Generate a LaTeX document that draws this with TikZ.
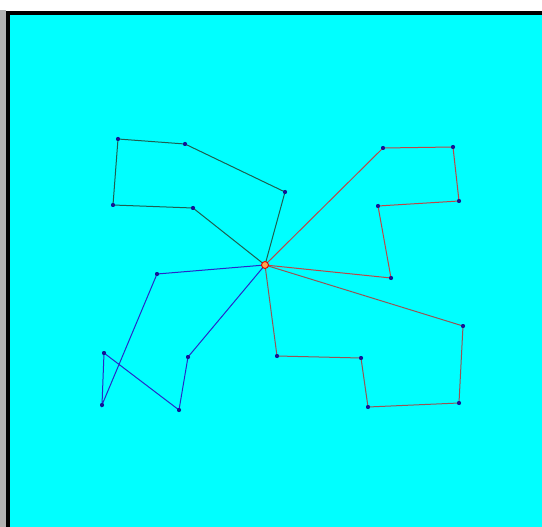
\documentclass[tikz,border=0pt]{standalone}
\definecolor{bgcyan}{RGB}{0,255,255}
\definecolor{tlcol}{RGB}{30,95,80}
\definecolor{trcol}{RGB}{190,70,70}
\definecolor{blcol}{RGB}{40,40,200}
\definecolor{brcol}{RGB}{150,85,85}
\definecolor{dotcol}{RGB}{20,20,150}
\begin{document}
\begin{tikzpicture}[x=1pt,y=-1pt,
  vtx/.style={circle,fill=dotcol,inner sep=0pt,minimum size=4pt},
  ctr/.style={circle,draw=red!85!black,fill=orange!70,line width=0.9pt,inner sep=0pt,minimum size=7pt},
  armtl/.style={draw=tlcol,line width=1pt},
  armtr/.style={draw=trcol,line width=1pt},
  armbl/.style={draw=blcol,line width=1pt},
  armbr/.style={draw=brcol,line width=1pt}]
\useasboundingbox (0,0) rectangle (542,527);
\fill[white] (0,0) rectangle (542,527);
\fill[gray!60] (0,10) rectangle (6,527);
\fill[black] (6,11) rectangle (542,527);
\fill[bgcyan] (10,15) rectangle (542,527);
% vertices
\node[vtx] (a1) at (285,192) {};
\node[vtx] (a2) at (185,144) {};
\node[vtx] (a3) at (118,139) {};
\node[vtx] (a4) at (113,205) {};
\node[vtx] (a5) at (193,208) {};
\node[vtx] (b1) at (383,148) {};
\node[vtx] (b2) at (453,147) {};
\node[vtx] (b3) at (459,201) {};
\node[vtx] (b4) at (378,206) {};
\node[vtx] (b5) at (391,278) {};
\node[vtx] (c1) at (157,274) {};
\node[vtx] (c2) at (102,405) {};
\node[vtx] (c3) at (104,353) {};
\node[vtx] (c4) at (179,410) {};
\node[vtx] (c5) at (188,357) {};
\node[vtx] (d1) at (463,326) {};
\node[vtx] (d2) at (459,403) {};
\node[vtx] (d3) at (368,407) {};
\node[vtx] (d4) at (361,358) {};
\node[vtx] (d5) at (277,356) {};
\coordinate (C) at (265,265);
% arms
\path[armtl] (C) -- (a1.center) -- (a2.center) -- (a3.center) -- (a4.center) -- (a5.center) -- (C);
\path[armtr] (C) -- (b1.center) -- (b2.center) -- (b3.center) -- (b4.center) -- (b5.center) -- (C);
\path[armbl] (C) -- (c1.center) -- (c2.center) -- (c3.center) -- (c4.center) -- (c5.center) -- (C);
\path[armbr] (C) -- (d1.center) -- (d2.center) -- (d3.center) -- (d4.center) -- (d5.center) -- (C);
% dots on top
\foreach \n in {a1,a2,a3,a4,a5,b1,b2,b3,b4,b5,c1,c2,c3,c4,c5,d1,d2,d3,d4,d5}
  \fill[dotcol] (\n) circle (2pt);
\node[ctr] (c) at (C) {};
\end{tikzpicture}
\end{document}
